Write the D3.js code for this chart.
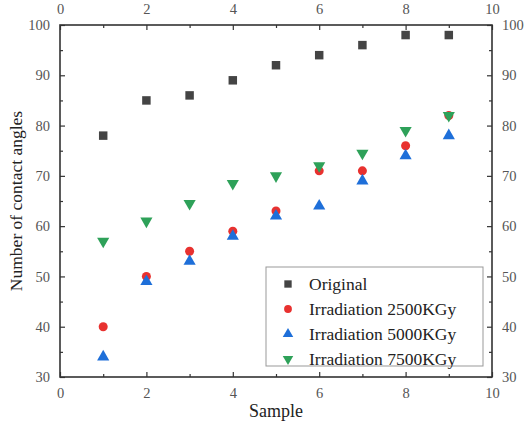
<!DOCTYPE html>
<html><head><meta charset="utf-8">
<script src="https://cdn.jsdelivr.net/npm/d3@7"></script>
<style>body{margin:0;background:#fff}svg{display:block}text{font-family:"Liberation Serif","DejaVu Serif",serif}</style>
</head><body>
<script>
const samples = [1,2,3,4,5,6,7,8,9];
const original = [78,85,86,89,92,94,96,98,98];
const irr2500 = [40,50,55,59,63,71,71,76,82];
const irr5000 = [34,49,53,58,62,64,69,74,78];
const irr7500 = [57,61,64.5,68.5,70,72,74.5,79,82];
const seriesNames = ["Original","Irradiation 2500KGy","Irradiation 5000KGy","Irradiation 7500KGy"];
const xTicks = [0,2,4,6,8,10];
const yTicks = [30,40,50,60,70,80,90,100];

const W=528,H=429;
const m={l:60,r:36,t:25,b:52};
const svg=d3.select("body").append("svg").attr("width",W).attr("height",H);
const x=d3.scaleLinear().domain([0,10]).range([m.l,W-m.r]);
const y=d3.scaleLinear().domain([30,100]).range([H-m.b,m.t]);
const tickCol="#555", axCol="#333";

function styleAxis(g){
  g.attr("font-family",null).attr("font-size",null);
  g.select(".domain").remove();
  g.selectAll("line").attr("stroke",axCol).attr("stroke-width",1.2);
  g.selectAll("text").style("font-size","14.5px").attr("fill",tickCol);
}
const xMinor=d3.range(1,10,2), yMinor=d3.range(35,100,10);
svg.append("g").attr("transform",`translate(0,${y(30)})`).call(d3.axisBottom(x).tickValues(xTicks).tickSizeInner(-5).tickSizeOuter(0).tickPadding(11)).call(styleAxis);
svg.append("g").attr("transform",`translate(0,${y(30)})`).call(d3.axisBottom(x).tickValues(xMinor).tickSizeInner(-3).tickSizeOuter(0).tickFormat("")).call(styleAxis);
svg.append("g").attr("transform",`translate(0,${y(100)})`).call(d3.axisTop(x).tickValues(xTicks).tickSizeInner(-5).tickSizeOuter(0).tickPadding(11)).call(styleAxis);
svg.append("g").attr("transform",`translate(0,${y(100)})`).call(d3.axisTop(x).tickValues(xMinor).tickSizeInner(-3).tickSizeOuter(0).tickFormat("")).call(styleAxis);
svg.append("g").attr("transform",`translate(${x(0)},0)`).call(d3.axisLeft(y).tickValues(yTicks).tickSizeInner(-5).tickSizeOuter(0).tickPadding(10)).call(styleAxis);
svg.append("g").attr("transform",`translate(${x(0)},0)`).call(d3.axisLeft(y).tickValues(yMinor).tickSizeInner(-3).tickSizeOuter(0).tickFormat("")).call(styleAxis);
svg.append("g").attr("transform",`translate(${x(10)},0)`).call(d3.axisRight(y).tickValues(yTicks).tickSizeInner(-5).tickSizeOuter(0).tickPadding(10)).call(styleAxis);
svg.append("g").attr("transform",`translate(${x(10)},0)`).call(d3.axisRight(y).tickValues(yMinor).tickSizeInner(-3).tickSizeOuter(0).tickFormat("")).call(styleAxis);

svg.append("rect").attr("x",x(0)).attr("y",y(100)).attr("width",x(10)-x(0)).attr("height",y(30)-y(100))
  .attr("fill","none").attr("stroke",axCol).attr("stroke-width",1.6);

const colors=["#444444","#e8312f","#1e6fd9","#2ea159"];
const syms=[d3.symbolSquare,d3.symbolCircle,d3.symbolTriangle,d3.symbolTriangle];
const sizes=[72,64,64,64];
const rot=[0,0,0,180];
const data=[original,irr2500,irr5000,irr7500];
data.forEach((vals,i)=>{
  svg.append("g").selectAll("path").data(samples.map((s,j)=>[s,vals[j]])).join("path")
    .attr("transform",d=>`translate(${x(d[0])},${y(d[1])}) rotate(${rot[i]})`)
    .attr("d",d3.symbol().type(syms[i]).size(sizes[i])).attr("fill",colors[i]);
});

const lg=svg.append("g");
lg.append("rect").attr("x",266).attr("y",267).attr("width",217).attr("height",99)
  .attr("fill","#fff").attr("stroke","#999").attr("stroke-width",1);
seriesNames.forEach((n,i)=>{
  const yy=284+i*25;
  lg.append("path").attr("transform",`translate(288,${yy}) rotate(${rot[i]})`)
    .attr("d",d3.symbol().type(syms[i]).size(sizes[i]*0.75)).attr("fill",colors[i]);
  lg.append("text").attr("x",309).attr("y",yy+6).text(n)
    .style("font-size","17.5px").attr("fill","#222");
});

svg.append("text").attr("x",(x(0)+x(10))/2).attr("y",417).attr("text-anchor","middle")
  .style("font-size","18px").attr("fill","#222").text("Sample");
svg.append("text").attr("transform",`translate(22,${(y(30)+y(100))/2}) rotate(-90)`).attr("text-anchor","middle")
  .style("font-size","17.5px").attr("fill","#222").text("Number of contact angles");
</script>
</body></html>
